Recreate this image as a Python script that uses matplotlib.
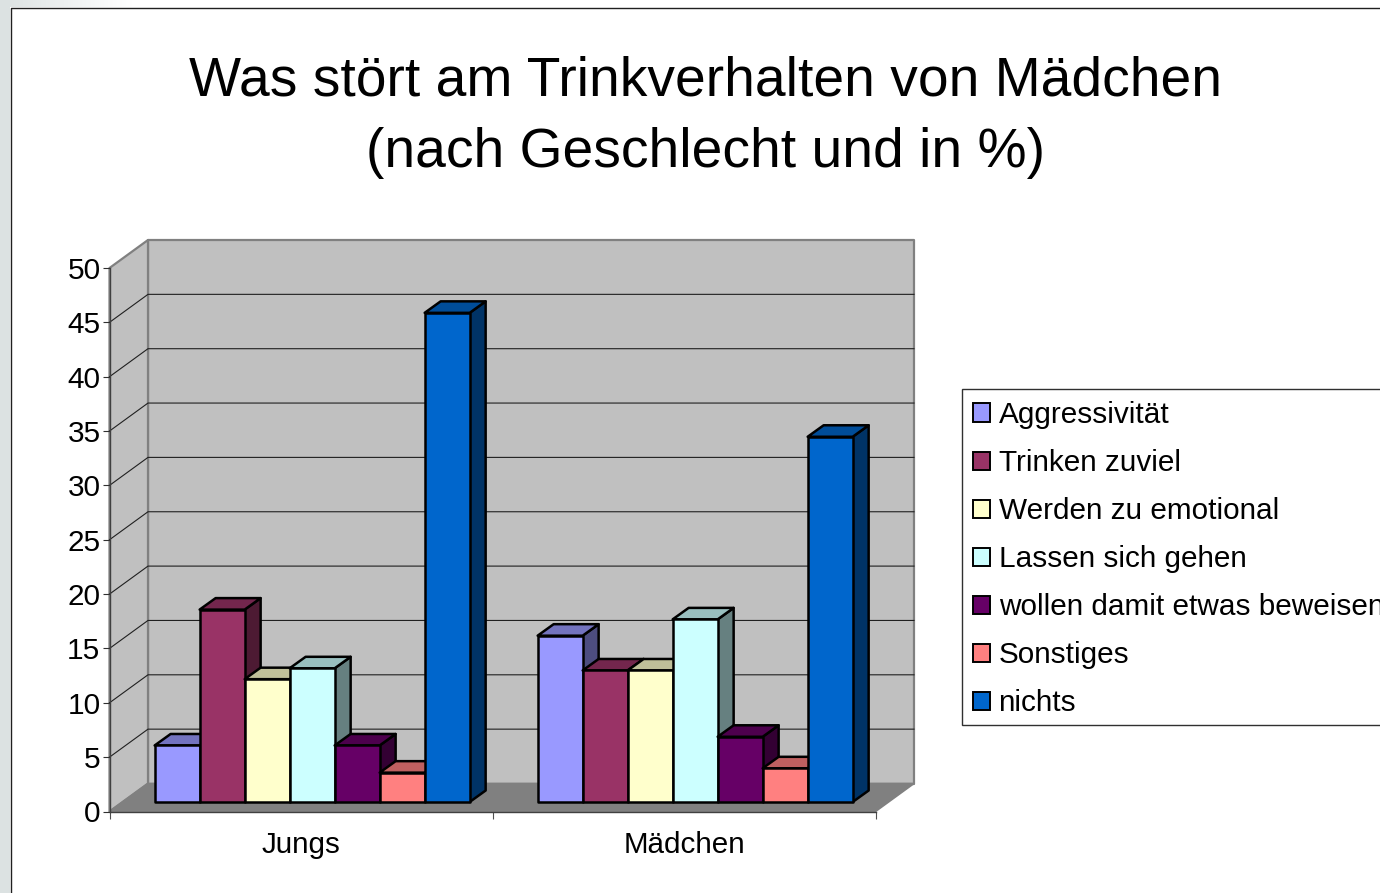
import matplotlib
matplotlib.use('Agg')
import matplotlib.pyplot as plt
import numpy as np
from matplotlib.colors import LinearSegmentedColormap, to_rgb
from matplotlib.patches import Patch, Polygon, Rectangle

plt.rcParams['font.family'] = ['Liberation Sans', 'DejaVu Sans']

title = 'Was stört am Trinkverhalten von Mädchen\n(nach Geschlecht und in %)'
categories = ['Jungs', 'Mädchen']
series = ['Aggressivität', 'Trinken zuviel', 'Werden zu emotional', 'Lassen sich gehen',
          'wollen damit etwas beweisen', 'Sonstiges', 'nichts']
jungs = [5.2, 17.7, 11.3, 12.3, 5.2, 2.7, 45.0]
maedchen = [15.3, 12.1, 12.1, 16.8, 6.0, 3.1, 33.6]
colors = ['#9999FF', '#993366', '#FFFFCC', '#CCFFFF', '#660066', '#FF8080', '#0066CC']
yticks = [0, 5, 10, 15, 20, 25, 30, 35, 40, 45, 50]

W, H = 1380, 893
fig = plt.figure(figsize=(W / 100, H / 100), dpi=100, facecolor='white')

# slide background, grey strip on the left and fading strip on top
bg = fig.add_axes([0, 0, 1, 1], zorder=0)
bg.axis('off')
fade = np.clip(1 - np.linspace(0, W, 600) / 130, 0, 1)[None, :]
strip = LinearSegmentedColormap.from_list('strip', ['white', '#DCE2E2'])
bg.imshow(fade, extent=(0, W, 7, 0), cmap=strip, vmin=0, vmax=1, aspect='auto')
bg.add_patch(Rectangle((0, 0), 10, H, fc='#DCE2E2', ec='none'))
bg.plot([10.5, 10.5, W], [H, 7.5, 7.5], color='#202020', lw=1)
bg.set_xlim(0, W)
bg.set_ylim(H, 0)

fig.text(705 / W, 1 - 117 / H, title, ha='center', va='center', fontsize=39.7, linespacing=1.48)

ax = fig.add_axes([109.5 / W, 1 - 811.5 / H, 766 / W, 543.5 / H], zorder=1)
ax.patch.set_visible(False)
ax.set_xlim(0, 2)
ax.set_ylim(0, 50)

# sizes of the fake depth, pixels converted to data units
px_x = 2 / 766
px_y = 50 / 543.5
wall_dx, wall_dy = 38.5 * px_x, 28 * px_y
bar_dx, bar_dy = 16 * px_x, 11.5 * px_y
off_x, off_y = 12 * px_x, 9.5 * px_y
bar_w = 0.1175
gap = 0.0865


def poly(points, fc, ec='none', lw=0.0, z=1):
    ax.add_patch(Polygon(points, closed=True, fc=fc, ec=ec, lw=lw, clip_on=False, zorder=z,
                         joinstyle='round'))


top = yticks[-1]
poly([(wall_dx, wall_dy), (2 + wall_dx, wall_dy), (2 + wall_dx, top + wall_dy), (wall_dx, top + wall_dy)],
     '#C0C0C0', '#808080', 1.6)
poly([(0, 0), (wall_dx, wall_dy), (wall_dx, top + wall_dy), (0, top)], '#C0C0C0', '#808080', 1.6)
poly([(0, 0), (2, 0), (2 + wall_dx, wall_dy), (wall_dx, wall_dy)], '#808080', '#808080', 1.2, z=1.1)

for v in yticks[1:-1]:
    ax.plot([0, wall_dx, 2 + wall_dx], [v, v + wall_dy, v + wall_dy], color='#202020', lw=0.8,
            clip_on=False, zorder=1.2)

z = 3
for i, values in enumerate([jungs, maedchen]):
    for j, v in enumerate(values):
        x0 = i + gap + j * bar_w + off_x
        x1 = x0 + bar_w
        y0 = off_y
        y1 = off_y + v
        base = np.array(to_rgb(colors[j]))
        poly([(x1, y0), (x1 + bar_dx, y0 + bar_dy), (x1 + bar_dx, y1 + bar_dy), (x1, y1)],
             tuple(base * 0.5), 'black', 1.8, z)
        poly([(x0, y1), (x1, y1), (x1 + bar_dx, y1 + bar_dy), (x0 + bar_dx, y1 + bar_dy)],
             tuple(base * 0.75), 'black', 1.8, z)
        poly([(x0, y0), (x1, y0), (x1, y1), (x0, y1)], colors[j], 'black', 1.8, z)
        z += 0.01

for s in ['top', 'right']:
    ax.spines[s].set_visible(False)
ax.spines['left'].set_color('#404040')
ax.spines['bottom'].set_color('#404040')
ax.spines['left'].set_linewidth(1)
ax.spines['bottom'].set_linewidth(1)

ax.set_yticks(yticks)
ax.tick_params(axis='y', labelsize=21.4, length=5, width=0.8, color='#303030', pad=1.5)
ax.set_xticks([0, 1, 2])
ax.set_xticklabels([])
ax.set_xticks([0.5, 1.5], labels=categories, minor=True)
ax.tick_params(axis='x', which='major', length=5, width=0.8, color='#505050')
ax.tick_params(axis='x', which='minor', length=0, labelsize=21.3, pad=14)

# legend box runs off the right edge like in the original
bg.add_patch(Rectangle((962, 389), 500, 336, fc='white', ec='#303030', lw=1))
handles = [Patch(fc=c, ec='black', lw=1.4) for c in colors]
fig.legend(handles, series, loc='upper left', bbox_to_anchor=(962 / W, 1 - 390 / H), frameon=False,
           fontsize=21.4, handlelength=0.56, handleheight=0.56, handletextpad=0.3,
           labelspacing=0.675, borderpad=0.37, borderaxespad=0, labelcolor='black')

fig.savefig('out.png', dpi=100)
